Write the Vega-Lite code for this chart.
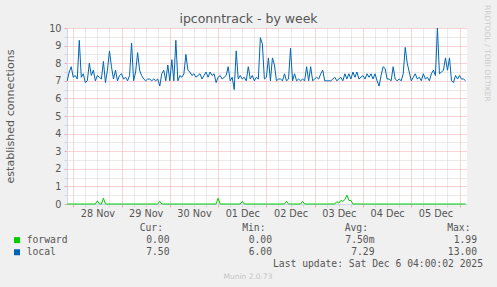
{
  "$schema": "https://vega.github.io/schema/vega-lite/v6.json",
  "width": 400,
  "height": 176,
  "autosize": {"type": "none"},
  "padding": {"left": 67, "top": 28, "right": 30, "bottom": 83},
  "background": "#f0f0f0",
  "view": {"fill": "white", "stroke": null},
  "config": {
    "font": "DejaVu Sans",
    "axis": {
      "labelFont": "DejaVu Sans",
      "labelFontSize": 9.7,
      "labelColor": "#555555",
      "titleFont": "DejaVu Sans",
      "titleFontSize": 11.1,
      "titleFontWeight": "normal",
      "titleColor": "#555555",
      "domainColor": "#cfd6f8",
      "domainWidth": 1
    }
  },
  "datasets": {
    "conn": [
      {"s": "local", "t": "2025-11-27T21:00", "v": 7.0}, {"s": "local", "t": "2025-11-27T22:00", "v": 7.5}, {"s": "local", "t": "2025-11-27T23:00", "v": 7.8},
      {"s": "local", "t": "2025-11-28T00:00", "v": 7.2}, {"s": "local", "t": "2025-11-28T01:00", "v": 7.3}, {"s": "local", "t": "2025-11-28T02:00", "v": 7.1}, {"s": "local", "t": "2025-11-28T03:00", "v": 9.3},
      {"s": "local", "t": "2025-11-28T04:00", "v": 7.2}, {"s": "local", "t": "2025-11-28T05:00", "v": 7.4}, {"s": "local", "t": "2025-11-28T06:00", "v": 6.9}, {"s": "local", "t": "2025-11-28T07:00", "v": 7.0},
      {"s": "local", "t": "2025-11-28T08:00", "v": 8.0}, {"s": "local", "t": "2025-11-28T09:00", "v": 7.3}, {"s": "local", "t": "2025-11-28T10:00", "v": 7.6}, {"s": "local", "t": "2025-11-28T11:00", "v": 7.0},
      {"s": "local", "t": "2025-11-28T12:00", "v": 7.3}, {"s": "local", "t": "2025-11-28T13:00", "v": 7.2}, {"s": "local", "t": "2025-11-28T14:00", "v": 7.1}, {"s": "local", "t": "2025-11-28T15:00", "v": 8.1},
      {"s": "local", "t": "2025-11-28T16:00", "v": 6.9}, {"s": "local", "t": "2025-11-28T17:00", "v": 7.6}, {"s": "local", "t": "2025-11-28T18:00", "v": 8.7}, {"s": "local", "t": "2025-11-28T19:00", "v": 7.8},
      {"s": "local", "t": "2025-11-28T20:00", "v": 7.1}, {"s": "local", "t": "2025-11-28T21:00", "v": 7.6}, {"s": "local", "t": "2025-11-28T22:00", "v": 7.0}, {"s": "local", "t": "2025-11-28T23:00", "v": 7.3},
      {"s": "local", "t": "2025-11-29T00:00", "v": 7.4}, {"s": "local", "t": "2025-11-29T01:00", "v": 7.1}, {"s": "local", "t": "2025-11-29T02:00", "v": 7.2}, {"s": "local", "t": "2025-11-29T03:00", "v": 7.0},
      {"s": "local", "t": "2025-11-29T04:00", "v": 7.3}, {"s": "local", "t": "2025-11-29T05:00", "v": 9.15}, {"s": "local", "t": "2025-11-29T06:00", "v": 7.0}, {"s": "local", "t": "2025-11-29T07:00", "v": 7.5},
      {"s": "local", "t": "2025-11-29T08:00", "v": 8.6}, {"s": "local", "t": "2025-11-29T09:00", "v": 7.6}, {"s": "local", "t": "2025-11-29T10:00", "v": 7.3}, {"s": "local", "t": "2025-11-29T11:00", "v": 7.1},
      {"s": "local", "t": "2025-11-29T12:00", "v": 7.0}, {"s": "local", "t": "2025-11-29T13:00", "v": 7.1}, {"s": "local", "t": "2025-11-29T14:00", "v": 7.1}, {"s": "local", "t": "2025-11-29T15:00", "v": 7.0},
      {"s": "local", "t": "2025-11-29T16:00", "v": 7.1}, {"s": "local", "t": "2025-11-29T17:00", "v": 7.0}, {"s": "local", "t": "2025-11-29T18:00", "v": 7.1}, {"s": "local", "t": "2025-11-29T19:00", "v": 6.7},
      {"s": "local", "t": "2025-11-29T20:00", "v": 7.4}, {"s": "local", "t": "2025-11-29T21:00", "v": 7.6}, {"s": "local", "t": "2025-11-29T22:00", "v": 7.0}, {"s": "local", "t": "2025-11-29T23:00", "v": 7.9},
      {"s": "local", "t": "2025-11-30T00:00", "v": 7.0}, {"s": "local", "t": "2025-11-30T01:00", "v": 8.2}, {"s": "local", "t": "2025-11-30T02:00", "v": 7.0}, {"s": "local", "t": "2025-11-30T03:00", "v": 9.3},
      {"s": "local", "t": "2025-11-30T04:00", "v": 7.0}, {"s": "local", "t": "2025-11-30T05:00", "v": 7.3}, {"s": "local", "t": "2025-11-30T06:00", "v": 7.2}, {"s": "local", "t": "2025-11-30T07:00", "v": 7.4},
      {"s": "local", "t": "2025-11-30T08:00", "v": 8.5}, {"s": "local", "t": "2025-11-30T09:00", "v": 7.6}, {"s": "local", "t": "2025-11-30T10:00", "v": 7.5}, {"s": "local", "t": "2025-11-30T11:00", "v": 7.3},
      {"s": "local", "t": "2025-11-30T12:00", "v": 7.4}, {"s": "local", "t": "2025-11-30T13:00", "v": 7.2}, {"s": "local", "t": "2025-11-30T14:00", "v": 7.3}, {"s": "local", "t": "2025-11-30T15:00", "v": 7.4},
      {"s": "local", "t": "2025-11-30T16:00", "v": 7.1}, {"s": "local", "t": "2025-11-30T17:00", "v": 7.3}, {"s": "local", "t": "2025-11-30T18:00", "v": 7.5}, {"s": "local", "t": "2025-11-30T19:00", "v": 7.2},
      {"s": "local", "t": "2025-11-30T20:00", "v": 7.5}, {"s": "local", "t": "2025-11-30T21:00", "v": 7.3}, {"s": "local", "t": "2025-11-30T22:00", "v": 7.4}, {"s": "local", "t": "2025-11-30T23:00", "v": 6.9},
      {"s": "local", "t": "2025-12-01T00:00", "v": 7.2}, {"s": "local", "t": "2025-12-01T01:00", "v": 7.3}, {"s": "local", "t": "2025-12-01T02:00", "v": 7.1}, {"s": "local", "t": "2025-12-01T03:00", "v": 7.2},
      {"s": "local", "t": "2025-12-01T04:00", "v": 7.3}, {"s": "local", "t": "2025-12-01T05:00", "v": 7.8}, {"s": "local", "t": "2025-12-01T06:00", "v": 7.0}, {"s": "local", "t": "2025-12-01T07:00", "v": 7.2},
      {"s": "local", "t": "2025-12-01T08:00", "v": 6.5}, {"s": "local", "t": "2025-12-01T09:00", "v": 8.7}, {"s": "local", "t": "2025-12-01T10:00", "v": 7.1}, {"s": "local", "t": "2025-12-01T11:00", "v": 7.3},
      {"s": "local", "t": "2025-12-01T12:00", "v": 7.1}, {"s": "local", "t": "2025-12-01T13:00", "v": 7.2}, {"s": "local", "t": "2025-12-01T14:00", "v": 7.0}, {"s": "local", "t": "2025-12-01T15:00", "v": 7.8},
      {"s": "local", "t": "2025-12-01T16:00", "v": 7.1}, {"s": "local", "t": "2025-12-01T17:00", "v": 7.3}, {"s": "local", "t": "2025-12-01T18:00", "v": 7.0}, {"s": "local", "t": "2025-12-01T19:00", "v": 7.2},
      {"s": "local", "t": "2025-12-01T20:00", "v": 7.1}, {"s": "local", "t": "2025-12-01T21:00", "v": 9.45}, {"s": "local", "t": "2025-12-01T22:00", "v": 9.1}, {"s": "local", "t": "2025-12-01T23:00", "v": 7.1},
      {"s": "local", "t": "2025-12-02T00:00", "v": 7.2}, {"s": "local", "t": "2025-12-02T01:00", "v": 8.3}, {"s": "local", "t": "2025-12-02T02:00", "v": 7.0}, {"s": "local", "t": "2025-12-02T03:00", "v": 8.3},
      {"s": "local", "t": "2025-12-02T04:00", "v": 7.9}, {"s": "local", "t": "2025-12-02T05:00", "v": 7.0}, {"s": "local", "t": "2025-12-02T06:00", "v": 7.1}, {"s": "local", "t": "2025-12-02T07:00", "v": 7.1},
      {"s": "local", "t": "2025-12-02T08:00", "v": 7.0}, {"s": "local", "t": "2025-12-02T09:00", "v": 7.4}, {"s": "local", "t": "2025-12-02T10:00", "v": 7.0}, {"s": "local", "t": "2025-12-02T11:00", "v": 7.1},
      {"s": "local", "t": "2025-12-02T12:00", "v": 8.85}, {"s": "local", "t": "2025-12-02T13:00", "v": 7.0}, {"s": "local", "t": "2025-12-02T14:00", "v": 7.4}, {"s": "local", "t": "2025-12-02T15:00", "v": 7.0},
      {"s": "local", "t": "2025-12-02T16:00", "v": 7.1}, {"s": "local", "t": "2025-12-02T17:00", "v": 7.0}, {"s": "local", "t": "2025-12-02T18:00", "v": 7.1}, {"s": "local", "t": "2025-12-02T19:00", "v": 7.0},
      {"s": "local", "t": "2025-12-02T20:00", "v": 7.8}, {"s": "local", "t": "2025-12-02T21:00", "v": 7.0}, {"s": "local", "t": "2025-12-02T22:00", "v": 7.8}, {"s": "local", "t": "2025-12-02T23:00", "v": 7.0},
      {"s": "local", "t": "2025-12-03T00:00", "v": 7.1}, {"s": "local", "t": "2025-12-03T01:00", "v": 7.2}, {"s": "local", "t": "2025-12-03T02:00", "v": 7.1}, {"s": "local", "t": "2025-12-03T03:00", "v": 7.4},
      {"s": "local", "t": "2025-12-03T04:00", "v": 7.6}, {"s": "local", "t": "2025-12-03T05:00", "v": 7.0}, {"s": "local", "t": "2025-12-03T06:00", "v": 7.0}, {"s": "local", "t": "2025-12-03T07:00", "v": 7.0},
      {"s": "local", "t": "2025-12-03T08:00", "v": 7.0}, {"s": "local", "t": "2025-12-03T09:00", "v": 7.1}, {"s": "local", "t": "2025-12-03T10:00", "v": 7.2}, {"s": "local", "t": "2025-12-03T11:00", "v": 7.0},
      {"s": "local", "t": "2025-12-03T12:00", "v": 7.1}, {"s": "local", "t": "2025-12-03T13:00", "v": 7.2}, {"s": "local", "t": "2025-12-03T14:00", "v": 7.0}, {"s": "local", "t": "2025-12-03T15:00", "v": 7.4},
      {"s": "local", "t": "2025-12-03T16:00", "v": 7.1}, {"s": "local", "t": "2025-12-03T17:00", "v": 7.4}, {"s": "local", "t": "2025-12-03T18:00", "v": 7.1}, {"s": "local", "t": "2025-12-03T19:00", "v": 7.5},
      {"s": "local", "t": "2025-12-03T20:00", "v": 7.2}, {"s": "local", "t": "2025-12-03T21:00", "v": 7.5}, {"s": "local", "t": "2025-12-03T22:00", "v": 7.1}, {"s": "local", "t": "2025-12-03T23:00", "v": 7.2},
      {"s": "local", "t": "2025-12-04T00:00", "v": 7.3}, {"s": "local", "t": "2025-12-04T01:00", "v": 7.1}, {"s": "local", "t": "2025-12-04T02:00", "v": 7.4}, {"s": "local", "t": "2025-12-04T03:00", "v": 7.2},
      {"s": "local", "t": "2025-12-04T04:00", "v": 7.4}, {"s": "local", "t": "2025-12-04T05:00", "v": 7.1}, {"s": "local", "t": "2025-12-04T06:00", "v": 7.4}, {"s": "local", "t": "2025-12-04T07:00", "v": 7.0},
      {"s": "local", "t": "2025-12-04T08:00", "v": 6.7}, {"s": "local", "t": "2025-12-04T09:00", "v": 7.3}, {"s": "local", "t": "2025-12-04T10:00", "v": 7.8}, {"s": "local", "t": "2025-12-04T11:00", "v": 7.7},
      {"s": "local", "t": "2025-12-04T12:00", "v": 7.1}, {"s": "local", "t": "2025-12-04T13:00", "v": 7.1}, {"s": "local", "t": "2025-12-04T14:00", "v": 7.0}, {"s": "local", "t": "2025-12-04T15:00", "v": 7.8},
      {"s": "local", "t": "2025-12-04T16:00", "v": 7.1}, {"s": "local", "t": "2025-12-04T17:00", "v": 7.0}, {"s": "local", "t": "2025-12-04T18:00", "v": 7.1}, {"s": "local", "t": "2025-12-04T19:00", "v": 7.0},
      {"s": "local", "t": "2025-12-04T20:00", "v": 7.4}, {"s": "local", "t": "2025-12-04T21:00", "v": 8.9}, {"s": "local", "t": "2025-12-04T22:00", "v": 8.0}, {"s": "local", "t": "2025-12-04T23:00", "v": 7.5},
      {"s": "local", "t": "2025-12-05T00:00", "v": 7.0}, {"s": "local", "t": "2025-12-05T01:00", "v": 7.2}, {"s": "local", "t": "2025-12-05T02:00", "v": 7.4}, {"s": "local", "t": "2025-12-05T03:00", "v": 7.1},
      {"s": "local", "t": "2025-12-05T04:00", "v": 7.2}, {"s": "local", "t": "2025-12-05T05:00", "v": 7.0}, {"s": "local", "t": "2025-12-05T06:00", "v": 7.4}, {"s": "local", "t": "2025-12-05T07:00", "v": 7.1},
      {"s": "local", "t": "2025-12-05T08:00", "v": 7.2}, {"s": "local", "t": "2025-12-05T09:00", "v": 7.0}, {"s": "local", "t": "2025-12-05T10:00", "v": 7.4}, {"s": "local", "t": "2025-12-05T11:00", "v": 7.6},
      {"s": "local", "t": "2025-12-05T12:00", "v": 7.3}, {"s": "local", "t": "2025-12-05T13:00", "v": 10.0}, {"s": "local", "t": "2025-12-05T14:00", "v": 7.4}, {"s": "local", "t": "2025-12-05T15:00", "v": 7.5},
      {"s": "local", "t": "2025-12-05T16:00", "v": 7.6}, {"s": "local", "t": "2025-12-05T17:00", "v": 8.3}, {"s": "local", "t": "2025-12-05T18:00", "v": 7.6}, {"s": "local", "t": "2025-12-05T19:00", "v": 8.3},
      {"s": "local", "t": "2025-12-05T20:00", "v": 7.0}, {"s": "local", "t": "2025-12-05T21:00", "v": 6.9}, {"s": "local", "t": "2025-12-05T22:00", "v": 7.3}, {"s": "local", "t": "2025-12-05T23:00", "v": 7.1},
      {"s": "local", "t": "2025-12-06T00:00", "v": 7.3}, {"s": "local", "t": "2025-12-06T01:00", "v": 7.1}, {"s": "local", "t": "2025-12-06T02:00", "v": 7.1}, {"s": "local", "t": "2025-12-06T03:00", "v": 7.0},
      {"s": "forward", "t": "2025-11-27T21:00", "v": 0},
      {"s": "forward", "t": "2025-11-28T11:00", "v": 0}, {"s": "forward", "t": "2025-11-28T12:00", "v": 0.18}, {"s": "forward", "t": "2025-11-28T13:00", "v": 0},
      {"s": "forward", "t": "2025-11-28T14:00", "v": 0}, {"s": "forward", "t": "2025-11-28T15:00", "v": 0.33}, {"s": "forward", "t": "2025-11-28T16:00", "v": 0},
      {"s": "forward", "t": "2025-11-29T18:00", "v": 0}, {"s": "forward", "t": "2025-11-29T19:00", "v": 0.15}, {"s": "forward", "t": "2025-11-29T20:00", "v": 0},
      {"s": "forward", "t": "2025-11-30T23:00", "v": 0}, {"s": "forward", "t": "2025-12-01T00:00", "v": 0.33}, {"s": "forward", "t": "2025-12-01T01:00", "v": 0},
      {"s": "forward", "t": "2025-12-01T11:00", "v": 0}, {"s": "forward", "t": "2025-12-01T12:00", "v": 0.15}, {"s": "forward", "t": "2025-12-01T13:00", "v": 0},
      {"s": "forward", "t": "2025-12-02T09:00", "v": 0}, {"s": "forward", "t": "2025-12-02T10:00", "v": 0.15}, {"s": "forward", "t": "2025-12-02T11:00", "v": 0},
      {"s": "forward", "t": "2025-12-02T17:00", "v": 0}, {"s": "forward", "t": "2025-12-02T18:00", "v": 0.15}, {"s": "forward", "t": "2025-12-02T19:00", "v": 0},
      {"s": "forward", "t": "2025-12-03T10:00", "v": 0}, {"s": "forward", "t": "2025-12-03T11:00", "v": 0.13}, {"s": "forward", "t": "2025-12-03T12:00", "v": 0.05},
      {"s": "forward", "t": "2025-12-03T13:00", "v": 0.2}, {"s": "forward", "t": "2025-12-03T14:00", "v": 0.15}, {"s": "forward", "t": "2025-12-03T15:00", "v": 0.25},
      {"s": "forward", "t": "2025-12-03T16:00", "v": 0.5}, {"s": "forward", "t": "2025-12-03T17:00", "v": 0.2}, {"s": "forward", "t": "2025-12-03T18:00", "v": 0.2},
      {"s": "forward", "t": "2025-12-03T19:00", "v": 0},
      {"s": "forward", "t": "2025-12-06T03:00", "v": 0}
    ],
    "legend": [
      {"r": "header", "c": "Cur", "t": "Cur:"},
      {"r": "header", "c": "Min", "t": "Min:"},
      {"r": "header", "c": "Avg", "t": "Avg:"},
      {"r": "header", "c": "Max", "t": "Max:"}
    ],
    "stats": [
      {"r": "forward", "c": "Cur", "t": "0.00"},
      {"r": "forward", "c": "Min", "t": "0.00"},
      {"r": "forward", "c": "Avg", "t": "7.50m"},
      {"r": "forward", "c": "Max", "t": "1.99"},
      {"r": "local", "c": "Cur", "t": "7.50"},
      {"r": "local", "c": "Min", "t": "6.00"},
      {"r": "local", "c": "Avg", "t": "7.29"},
      {"r": "local", "c": "Max", "t": "13.00"}
    ],
    "series": [
      {"r": "forward", "c": "name", "t": "forward"},
      {"r": "local", "c": "name", "t": "local"}
    ],
    "footer": [
      {"r": "update", "c": "Max", "t": "Last update: Sat Dec  6 04:00:02 2025"}
    ],
    "version": [
      {"r": "munin", "c": "Min", "t": "Munin 2.0.73"}
    ],
    "heading": [
      {"p": "title", "t": "ipconntrack - by week"}
    ],
    "watermark": [
      {"p": "rrd", "t": "RRDTOOL / TOBI OETIKER"}
    ]
  },
  "layer": [
    {
      "data": {"name": "conn"},
      "mark": {"type": "line", "strokeWidth": 1},
      "encoding": {
        "x": {
          "field": "t", "type": "temporal",
          "scale": {"domain": [
            {"year": 2025, "month": 11, "date": 27, "hours": 20, "minutes": 54},
            {"year": 2025, "month": 12, "date": 6, "hours": 3, "minutes": 42}
          ]},
          "axis": {
            "title": null,
            "values": [
              {"year": 2025, "month": 11, "date": 28, "hours": 0}, {"year": 2025, "month": 11, "date": 28, "hours": 6}, {"year": 2025, "month": 11, "date": 28, "hours": 12}, {"year": 2025, "month": 11, "date": 28, "hours": 18},
              {"year": 2025, "month": 11, "date": 29, "hours": 0}, {"year": 2025, "month": 11, "date": 29, "hours": 6}, {"year": 2025, "month": 11, "date": 29, "hours": 12}, {"year": 2025, "month": 11, "date": 29, "hours": 18},
              {"year": 2025, "month": 11, "date": 30, "hours": 0}, {"year": 2025, "month": 11, "date": 30, "hours": 6}, {"year": 2025, "month": 11, "date": 30, "hours": 12}, {"year": 2025, "month": 11, "date": 30, "hours": 18},
              {"year": 2025, "month": 12, "date": 1, "hours": 0}, {"year": 2025, "month": 12, "date": 1, "hours": 6}, {"year": 2025, "month": 12, "date": 1, "hours": 12}, {"year": 2025, "month": 12, "date": 1, "hours": 18},
              {"year": 2025, "month": 12, "date": 2, "hours": 0}, {"year": 2025, "month": 12, "date": 2, "hours": 6}, {"year": 2025, "month": 12, "date": 2, "hours": 12}, {"year": 2025, "month": 12, "date": 2, "hours": 18},
              {"year": 2025, "month": 12, "date": 3, "hours": 0}, {"year": 2025, "month": 12, "date": 3, "hours": 6}, {"year": 2025, "month": 12, "date": 3, "hours": 12}, {"year": 2025, "month": 12, "date": 3, "hours": 18},
              {"year": 2025, "month": 12, "date": 4, "hours": 0}, {"year": 2025, "month": 12, "date": 4, "hours": 6}, {"year": 2025, "month": 12, "date": 4, "hours": 12}, {"year": 2025, "month": 12, "date": 4, "hours": 18},
              {"year": 2025, "month": 12, "date": 5, "hours": 0}, {"year": 2025, "month": 12, "date": 5, "hours": 6}, {"year": 2025, "month": 12, "date": 5, "hours": 12}, {"year": 2025, "month": 12, "date": 5, "hours": 18},
              {"year": 2025, "month": 12, "date": 6, "hours": 0}
            ],
            "labelExpr": "hours(datum.value) == 12 ? timeFormat(datum.value, '%d %b') : ''",
            "labelOverlap": false,
            "labelFlush": false,
            "labelPadding": 1,
            "grid": true,
            "gridDash": [1, 1],
            "gridColor": {"condition": {"test": "hours(datum.value) == 0", "value": "#f0aaaa"}, "value": "#d4d4d4"},
            "tickColor": {"condition": {"test": "hours(datum.value) == 0", "value": "#f0aaaa"}, "value": "#d4d4d4"},
            "tickSize": 3
          }
        },
        "y": {
          "field": "v", "type": "quantitative",
          "scale": {"domain": [0, 10], "nice": false},
          "axis": {
            "title": "established connections",
            "titlePadding": 33,
            "values": [0, 0.5, 1, 1.5, 2, 2.5, 3, 3.5, 4, 4.5, 5, 5.5, 6, 6.5, 7, 7.5, 8, 8.5, 9, 9.5, 10],
            "labelExpr": "datum.value % 1 == 0 ? format(datum.value, 'd') : ''",
            "labelPadding": 3,
            "grid": true,
            "gridDash": [1, 1],
            "gridColor": {"condition": {"test": "datum.value % 1 == 0", "value": "#f0aaaa"}, "value": "#d4d4d4"},
            "tickColor": {"condition": {"test": "datum.value % 1 == 0", "value": "#f0aaaa"}, "value": "#d4d4d4"},
            "tickSize": 3
          }
        },
        "color": {"field": "s", "type": "nominal", "scale": {"domain": ["forward", "local"], "range": ["#00cc00", "#0066b3"]}, "legend": null}
      }
    },
    {
      "layer": [
        {
          "data": {"name": "legend"},
          "mark": {"type": "text", "font": "DejaVu Sans Mono", "fontSize": 9.7, "color": "#555555", "align": "right", "baseline": "middle", "dx": -6.5},
          "encoding": {
            "x": {"field": "c", "type": "nominal", "scale": {"type": "point", "domain": ["name", "Cur", "Min", "Avg", "Max"], "range": [0, 410], "padding": 0}, "axis": null},
            "y": {"field": "r", "type": "nominal", "scale": {"type": "point", "domain": ["header", "forward", "local", "update", "munin"], "range": [200, 248.5], "padding": 0}, "axis": null},
            "text": {"field": "t"}
          }
        },
        {
          "data": {"name": "stats"},
          "mark": {"type": "text", "font": "DejaVu Sans Mono", "fontSize": 9.7, "color": "#555555", "align": "right", "baseline": "middle"},
          "encoding": {
            "x": {"field": "c", "type": "nominal", "axis": null},
            "y": {"field": "r", "type": "nominal", "axis": null},
            "text": {"field": "t"}
          }
        },
        {
          "data": {"name": "series"},
          "mark": {"type": "text", "font": "DejaVu Sans Mono", "fontSize": 9.7, "color": "#555555", "align": "left", "baseline": "middle", "dx": -40.3},
          "encoding": {
            "x": {"field": "c", "type": "nominal", "axis": null},
            "y": {"field": "r", "type": "nominal", "axis": null},
            "text": {"field": "t"}
          }
        },
        {
          "data": {"name": "series"},
          "mark": {"type": "square", "size": 36, "opacity": 1, "filled": true, "xOffset": -50},
          "encoding": {
            "x": {"field": "c", "type": "nominal", "axis": null},
            "y": {"field": "r", "type": "nominal", "axis": null},
            "color": {"field": "t", "type": "nominal", "scale": {"domain": ["forward", "local"], "range": ["#00cc00", "#0066b3"]}, "legend": null}
          }
        },
        {
          "data": {"name": "footer"},
          "mark": {"type": "text", "font": "DejaVu Sans Mono", "fontSize": 9.7, "color": "#555555", "align": "right", "baseline": "middle", "dx": 6},
          "encoding": {
            "x": {"field": "c", "type": "nominal", "axis": null},
            "y": {"field": "r", "type": "nominal", "axis": null},
            "text": {"field": "t"}
          }
        },
        {
          "data": {"name": "version"},
          "mark": {"type": "text", "font": "DejaVu Sans", "fontSize": 7.5, "color": "#c4c4c4", "align": "center", "baseline": "middle", "dx": -24},
          "encoding": {
            "x": {"field": "c", "type": "nominal", "axis": null},
            "y": {"field": "r", "type": "nominal", "axis": null},
            "text": {"field": "t"}
          }
        }
      ]
    },
    {
      "layer": [
        {
          "data": {"name": "heading"},
          "mark": {"type": "text", "font": "DejaVu Sans", "fontSize": 12.5, "color": "#555555", "align": "center", "baseline": "alphabetic"},
          "encoding": {
            "x": {"field": "p", "type": "nominal", "scale": {"type": "point", "domain": ["title", "rrd"], "range": [181.5, 420], "padding": 0}, "axis": null},
            "y": {"field": "p", "type": "nominal", "scale": {"type": "point", "domain": ["title", "rrd"], "range": [-4.7, -23], "padding": 0}, "axis": null},
            "text": {"field": "t"}
          }
        },
        {
          "data": {"name": "watermark"},
          "mark": {"type": "text", "font": "DejaVu Sans", "fontSize": 7.5, "color": "#cccccc", "align": "left", "baseline": "middle", "angle": 90},
          "encoding": {
            "x": {"field": "p", "type": "nominal", "axis": null},
            "y": {"field": "p", "type": "nominal", "axis": null},
            "text": {"field": "t"}
          }
        }
      ]
    }
  ],
  "resolve": {
    "scale": {"x": "independent", "y": "independent", "color": "independent"},
    "axis": {"x": "independent", "y": "independent"}
  }
}
